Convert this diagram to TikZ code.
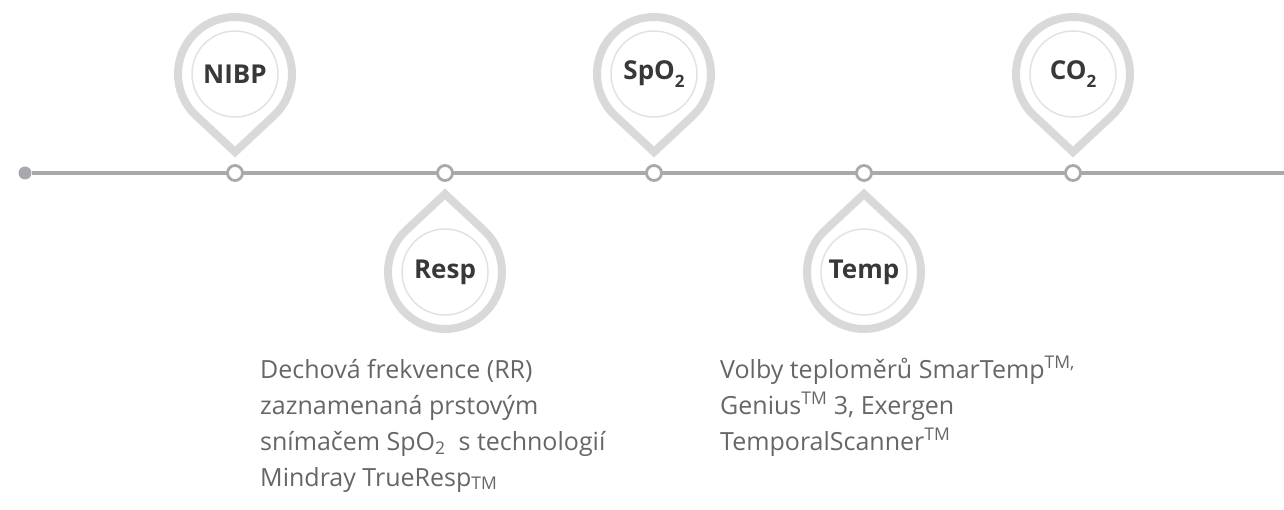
\documentclass[tikz,border=0pt]{standalone}
\usepackage{fontspec}
\setmainfont{Open Sans}
\usepackage{xcolor}
\usetikzlibrary{calc}

\definecolor{ringgray}{HTML}{D9D9D9}
\definecolor{innergray}{HTML}{E2E2E2}
\definecolor{linegray}{HTML}{A7A9AC}
\definecolor{labeltext}{HTML}{383838}
\definecolor{bodytext}{HTML}{666666}

\newcommand{\lowtwo}{\raisebox{-0.3em}{\fontsize{17}{17}\selectfont 2}}

\begin{document}
\begin{tikzpicture}[
    x=1pt, y=-1pt,
    ring/.style={
        draw=ringgray,
        line width=8pt
    },
    marker/.style={
        circle,
        draw=innergray,
        line width=1.5pt,
        minimum size=86pt,
        inner sep=0pt,
        font=\fontsize{26}{30}\selectfont\bfseries,
        text=labeltext
    },
    stop/.style={
        circle,
        draw=linegray,
        line width=2.8pt,
        fill=white,
        minimum size=15pt,
        inner sep=0pt
    },
    desc/.style={
        font=\fontsize{25}{36}\selectfont,
        text=bodytext,
        align=left,
        anchor=base west,
        inner sep=0pt
    }
]
\useasboundingbox (0,0) rectangle (1284,510);

% Timeline
\node[circle, fill=linegray, minimum size=13pt, inner sep=0pt] (start) at (25,173) {};
\node[circle, fill=linegray, minimum size=13pt, inner sep=0pt] (finish) at (1291,173) {};
\draw[linegray, line width=3.5pt] (start) -- (finish);

\node[stop] (s1) at (235,173) {};
\node[stop] (s2) at (445,173) {};
\node[stop] (s3) at (654,173) {};
\node[stop] (s4) at (864,173) {};
\node[stop] (s5) at (1073,173) {};

% Pins above the line
\foreach \x in {235,654,1073}
    \draw[ring] (\x,152) -- ([shift={(46.95:57)}]\x,74)
        arc[start angle=46.95, end angle=-226.95, radius=57] -- cycle;

% Pins below the line
\foreach \x in {445,864}
    \draw[ring] (\x,194) -- ([shift={(-46.95:57)}]\x,272)
        arc[start angle=-46.95, end angle=226.95, radius=57] -- cycle;

% Labels
\node[marker] (nibp) at (235,74) {NIBP};
\node[marker] (spo) at (654,74) {SpO\lowtwo};
\node[marker] (co) at (1073,74) {CO\lowtwo};
\node[marker] (resp) at (445,272) {Resp};
\node[marker] (temp) at (864,272) {Temp};

% Descriptions (anchored on the last line)
\node[desc] (respdesc) at (260,486) {Dechová frekvence (RR)\\zaznamenaná prstovým\\snímačem SpO\textsubscript{2}~ s technologií\\Mindray TrueResp\textsubscript{TM}};
\node[desc] (tempdesc) at (720,450) {Volby teploměrů SmarTemp\textsuperscript{TM,}\\Genius\textsuperscript{TM} 3, Exergen\\TemporalScanner\textsuperscript{TM}};

\end{tikzpicture}
\end{document}
